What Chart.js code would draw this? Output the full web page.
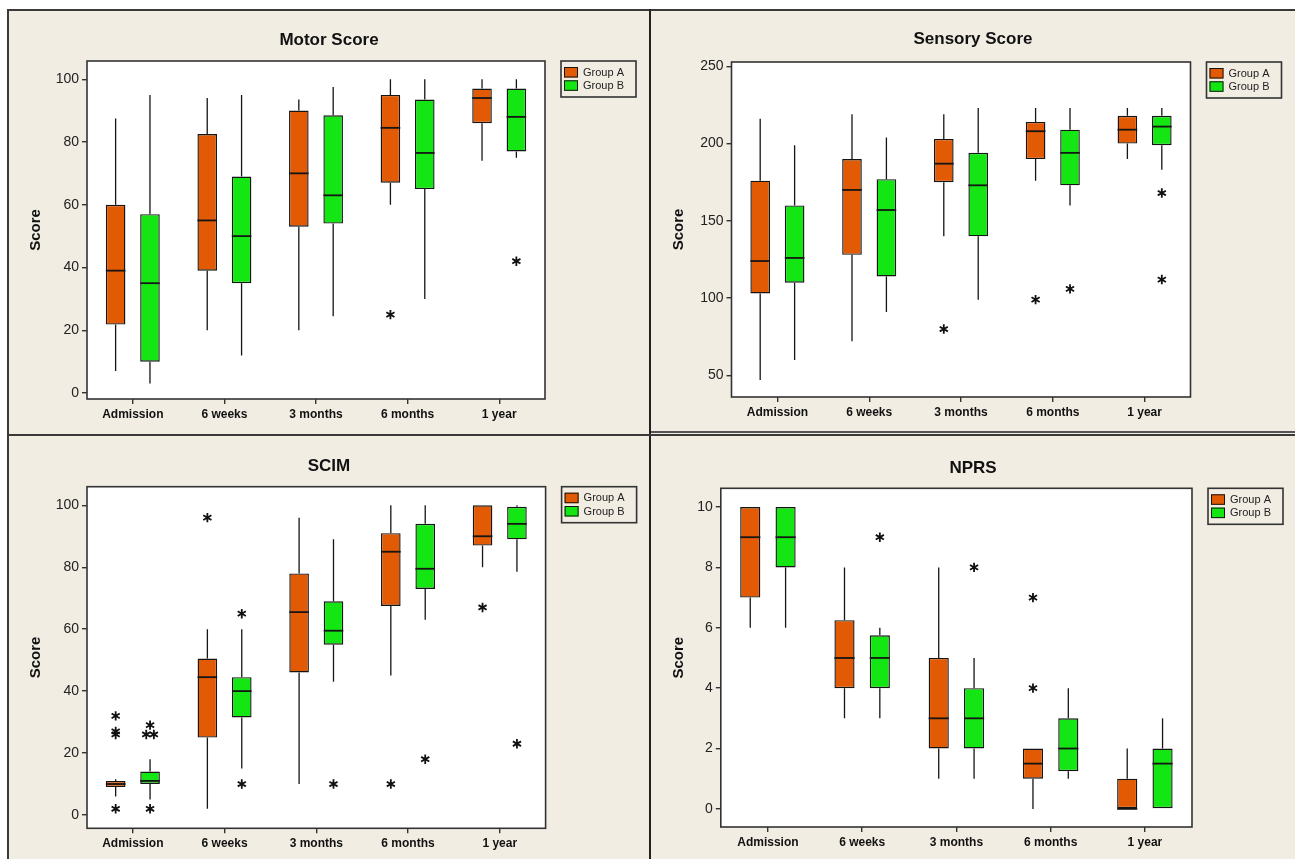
<!DOCTYPE html>
<html>
<head>
<meta charset="utf-8">
<title>Motor, Sensory, SCIM and NPRS scores by group</title>
<script src="https://cdn.jsdelivr.net/npm/chart.js@4.4.1/dist/chart.umd.min.js"></script>
<style>
  html, body { margin: 0; padding: 0; background: #ffffff; width: 1295px; height: 859px; overflow: hidden; }
  .sheet { position: absolute; left: 8px; top: 10px; width: 1287px; height: 849px; background: #f1ede3; }
  .rule { position: absolute; background: #3a3a3a; }
  canvas { position: absolute; }
</style>
</head>
<body>
<div class="sheet"></div>
<canvas id="c1" width="642" height="425" style="left:8px;top:10px"></canvas>
<canvas id="c2" width="644" height="425" style="left:651px;top:10px"></canvas>
<canvas id="c3" width="642" height="424" style="left:8px;top:435px"></canvas>
<canvas id="c4" width="644" height="424" style="left:651px;top:435px"></canvas>
<div class="rule" style="left:7px;top:9px;width:1288px;height:2px"></div>
<div class="rule" style="left:7px;top:9px;width:2px;height:850px"></div>
<div class="rule" style="left:649px;top:9px;width:2px;height:850px;background:#222"></div>
<div class="rule" style="left:7px;top:434px;width:1288px;height:2px"></div>
<div class="rule" style="left:651px;top:431px;width:644px;height:1.5px;background:#555"></div>
<script>
// Time points and groups
const timepoints = ['Admission', '6 weeks', '3 months', '6 months', '1 year'];
const groupNames = ['Group A', 'Group B'];

// Box summaries per time point: [lower whisker, Q1, median, Q3, upper whisker]
const motorA = [[7, 21.8, 39, 60, 87.5], [20, 39, 55, 82.5, 94], [20, 53, 70, 90, 93.5], [60, 67, 84.5, 95, 100], [74, 86, 94, 97, 100]];
const motorB = [[3, 10, 35, 57, 95], [12, 35, 50, 69, 95], [24.5, 54, 63, 88.5, 97.5], [30, 65, 76.5, 93.5, 100], [75, 77, 88, 97, 100]];
const motorOutA = [[], [], [], [25], []];
const motorOutB = [[], [], [], [], [42]];
const motorTicks = [0, 20, 40, 60, 80, 100];

const sensoryA = [[47, 103, 124, 176, 216], [72, 128, 170, 190, 219], [140, 175, 187, 203, 219], [176, 190, 208, 214, 223], [190, 200, 209, 218, 223]];
const sensoryB = [[60, 110, 126, 160, 199], [91, 114, 157, 177, 204], [99, 140, 173, 194, 223], [160, 173, 194, 209, 223], [183, 199, 211, 218, 223]];
const sensoryOutA = [[], [], [80], [99], []];
const sensoryOutB = [[], [], [], [106], [168, 112]];
const sensoryTicks = [50, 100, 150, 200, 250];

const scimA = [[6, 9, 10, 11, 11.5], [2, 25, 44.5, 50.5, 60], [10, 46, 65.5, 78, 96], [45, 67.5, 85, 91, 100], [80, 87, 90, 100, 100]];
const scimB = [[5, 10, 11, 14, 18], [15, 31.5, 40, 44.5, 60], [43, 55, 59.5, 69, 89], [63, 73, 79.5, 94, 100], [78.5, 89, 94, 99.5, 100]];
const scimOutA = [[32, 27, 26, 2], [96], [], [10], [67]];
const scimOutB = [[29, 26, 26, 2], [65, 10], [10], [18], [23]];
const scimTicks = [0, 20, 40, 60, 80, 100];

const nprsA = [[6, 7, 9, 10, 10], [3, 4, 5, 6.25, 8], [1, 2, 3, 5, 8], [0, 1, 1.5, 2, 2], [0, 0, 0, 1, 2]];
const nprsB = [[6, 8, 9, 10, 10], [3, 4, 5, 5.75, 6], [1, 2, 3, 4, 5], [1, 1.25, 2, 3, 4], [0, 0, 1.5, 2, 3]];
const nprsOutA = [[], [], [], [7, 4], []];
const nprsOutB = [[], [9], [8], [], []];
const nprsTicks = [0, 2, 4, 6, 8, 10];

// ---- drawing setup ----
const CAT_PCT = 0.75;
const BAR_PCT = 0.57;
const TIE_GAP = 7.6;   // px between tied outliers
const GROUP_COLORS = ['#e25a04', '#14e614'];
const INK = '#151515';

Chart.defaults.font.family = '"Liberation Sans", Arial, sans-serif';
Chart.defaults.color = '#222';

// six-armed asterisk used for outlying values
function drawAsterisk(ctx, x, y) {
  const r = 4.7;
  ctx.beginPath();
  [90, 30, 150].forEach(deg => {
    const a = deg * Math.PI / 180;
    ctx.moveTo(x - r * Math.cos(a), y - r * Math.sin(a));
    ctx.lineTo(x + r * Math.cos(a), y + r * Math.sin(a));
  });
  ctx.stroke();
}

const boxPlotPlugin = {
  id: 'boxPlotDecor',
  beforeDraw(chart) {
    const { ctx, chartArea: a } = chart;
    ctx.save();
    ctx.fillStyle = '#ffffff';
    ctx.fillRect(a.left, a.top, a.right - a.left, a.bottom - a.top);
    ctx.restore();
  },
  afterDatasetsDraw(chart) {
    const ctx = chart.ctx, ys = chart.scales.y;
    chart.data.datasets.forEach((ds, di) => {
      const meta = chart.getDatasetMeta(di);
      meta.data.forEach((bar, i) => {
        const [lo, q1, med, q3, hi] = ds.stats[i];
        const half = bar.width / 2;
        ctx.save();
        ctx.strokeStyle = INK;
        // whiskers
        ctx.lineWidth = 1.3;
        ctx.beginPath();
        if (hi > q3) { ctx.moveTo(bar.x, ys.getPixelForValue(q3)); ctx.lineTo(bar.x, ys.getPixelForValue(hi)); }
        if (lo < q1) { ctx.moveTo(bar.x, ys.getPixelForValue(q1)); ctx.lineTo(bar.x, ys.getPixelForValue(lo)); }
        ctx.stroke();
        // median
        const ym = ys.getPixelForValue(med);
        ctx.lineWidth = 1.8;
        ctx.beginPath();
        ctx.moveTo(bar.x - half, ym);
        ctx.lineTo(bar.x + half, ym);
        ctx.stroke();
        // outliers, ties side by side
        const vals = ds.outliers[i];
        const counts = {}, seen = {};
        vals.forEach(v => { counts[v] = (counts[v] || 0) + 1; });
        ctx.strokeStyle = '#111';
        ctx.lineWidth = 1.8;
        vals.forEach(v => {
          const k = counts[v];
          const j = seen[v] = (seen[v] === undefined ? 0 : seen[v] + 1);
          drawAsterisk(ctx, bar.x + (j - (k - 1) / 2) * TIE_GAP, ys.getPixelForValue(v));
        });
        ctx.restore();
      });
    });
  },
  afterDraw(chart, args, opts) {
    const { ctx, chartArea: a } = chart;
    ctx.save();
    // plot frame
    ctx.strokeStyle = '#333';
    ctx.lineWidth = 1.6;
    ctx.strokeRect(a.left, a.top, a.right - a.left, a.bottom - a.top);
    // title
    ctx.fillStyle = '#111';
    ctx.font = 'bold 17px "Liberation Sans", Arial, sans-serif';
    ctx.textAlign = 'center';
    ctx.textBaseline = 'middle';
    ctx.fillText(opts.title, chart.width / 2, opts.titleY);
    // legend
    const lx = a.right + 16, ly = a.top, lw = 75, lh = 36;
    ctx.lineWidth = 1.6;
    ctx.strokeStyle = '#333';
    ctx.strokeRect(lx, ly, lw, lh);
    ctx.font = '11px "Liberation Sans", Arial, sans-serif';
    ctx.textAlign = 'left';
    chart.data.datasets.forEach((d, r) => {
      const sy = ly + 6 + r * 13.3;
      ctx.fillStyle = d.backgroundColor;
      ctx.fillRect(lx + 3, sy, 14, 10.5);
      ctx.lineWidth = 1;
      ctx.strokeStyle = INK;
      ctx.strokeRect(lx + 3.5, sy + 0.5, 13, 9.5);
      ctx.fillStyle = '#222';
      ctx.fillText(d.label, lx + 22, sy + 5.5);
    });
    ctx.restore();
  }
};

function buildPanel(p) {
  const seriesStats = [p.a, p.b];
  const seriesOut = [p.outA, p.outB];
  const datasets = seriesStats.map((stats, g) => ({
    label: groupNames[g],
    stats: stats,
    outliers: seriesOut[g],
    data: stats.map(s => [s[1], s[3]]),
    backgroundColor: GROUP_COLORS[g],
    borderColor: INK,
    borderWidth: 1.4,
    borderSkipped: false,
    categoryPercentage: CAT_PCT,
    barPercentage: BAR_PCT
  }));

  new Chart(document.getElementById(p.id), {
    type: 'bar',
    data: { labels: timepoints, datasets },
    options: {
      responsive: false,
      animation: false,
      events: [],
      layout: { padding: { top: p.top, right: p.right, left: 10, bottom: 0 } },
      plugins: {
        legend: { display: false },
        title: { display: false },
        tooltip: { enabled: false },
        boxPlotDecor: { title: p.title, titleY: p.titleY }
      },
      scales: {
        x: {
          type: 'category',
          offset: true,
          border: { display: false },
          grid: { offset: false, drawOnChartArea: false, drawTicks: true, tickLength: 5, tickColor: '#333', lineWidth: 1.4 },
          ticks: { color: '#111', font: { size: 12, weight: 'bold' }, padding: 3, maxRotation: 0, autoSkip: false },
          afterFit: s => { s.height = p.xH; }
        },
        y: {
          type: 'linear',
          min: p.min,
          max: p.max,
          border: { display: false },
          grid: { drawOnChartArea: false, drawTicks: true, tickLength: 5, tickColor: '#333', lineWidth: 1.4 },
          ticks: { color: '#222', font: { size: 14 }, padding: 3 },
          afterBuildTicks: s => { s.ticks = p.ticks.map(v => ({ value: v })); },
          title: { display: true, text: 'Score', color: '#111', font: { size: 15, weight: 'bold' }, padding: { top: 9, bottom: 0 } },
          afterFit: s => { s.width = p.yW; }
        }
      }
    },
    plugins: [boxPlotPlugin]
  });
}

buildPanel({ id: 'c1', title: 'Motor Score', a: motorA, b: motorB, outA: motorOutA, outB: motorOutB, ticks: motorTicks,
  min: -1.9, max: 105.8, top: 51, right: 105, yW: 69, xH: 36, titleY: 30 });
buildPanel({ id: 'c2', title: 'Sensory Score', a: sensoryA, b: sensoryB, outA: sensoryOutA, outB: sensoryOutB, ticks: sensoryTicks,
  min: 36, max: 252.8, top: 52, right: 104.5, yW: 70.5, xH: 38, titleY: 29.5 });
buildPanel({ id: 'c3', title: 'SCIM', a: scimA, b: scimB, outA: scimOutA, outB: scimOutB, ticks: scimTicks,
  min: -4.3, max: 106, top: 51.7, right: 104.4, yW: 69, xH: 30.7, titleY: 31.7 });
buildPanel({ id: 'c4', title: 'NPRS', a: nprsA, b: nprsB, outA: nprsOutA, outB: nprsOutB, ticks: nprsTicks,
  min: -0.6, max: 10.62, top: 53.3, right: 103, yW: 59.8, xH: 32, titleY: 33 });
</script>
</body>
</html>
